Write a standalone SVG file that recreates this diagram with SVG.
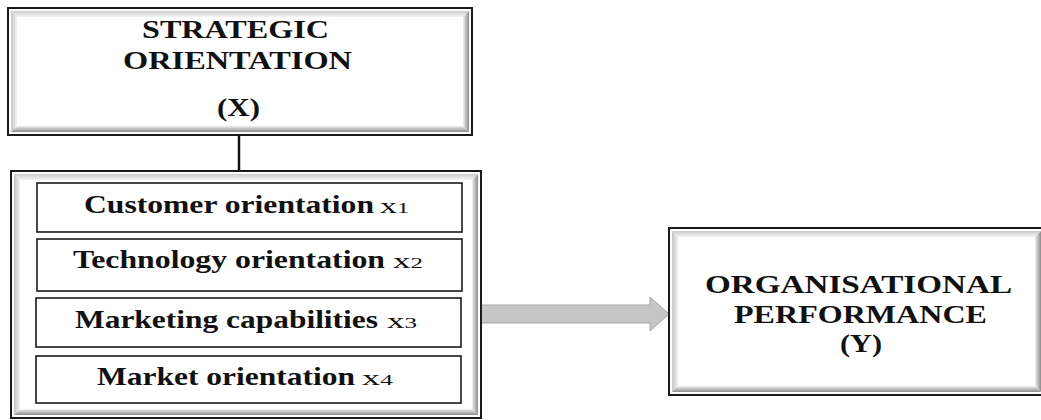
<svg xmlns="http://www.w3.org/2000/svg" width="1041" height="420" viewBox="0 0 1041 420">
  <defs>
    <linearGradient id="gL" x1="0" y1="0" x2="1" y2="0">
      <stop offset="0" stop-color="#c4c4c4"/>
      <stop offset="1" stop-color="#f2f2f2"/>
    </linearGradient>
    <linearGradient id="gT" x1="0" y1="0" x2="0" y2="1">
      <stop offset="0" stop-color="#cccccc"/>
      <stop offset="1" stop-color="#f4f4f4"/>
    </linearGradient>
    <linearGradient id="gR" x1="0" y1="0" x2="1" y2="0">
      <stop offset="0" stop-color="#f0f0f0"/>
      <stop offset="1" stop-color="#8c8c8c"/>
    </linearGradient>
    <linearGradient id="gB" x1="0" y1="0" x2="0" y2="1">
      <stop offset="0" stop-color="#f0f0f0"/>
      <stop offset="1" stop-color="#8c8c8c"/>
    </linearGradient>
    <style>
      .outer { fill: #ffffff; stroke: #1a1a1a; stroke-width: 2; }
      .sub { fill: #ffffff; stroke: #1a1a1a; stroke-width: 1.6; }
      .bl { fill: url(#gL); }
      .bt { fill: url(#gT); }
      .br { fill: url(#gR); }
      .bb { fill: url(#gB); }
      text { font-family: 'Liberation Serif', 'DejaVu Serif', serif; }
      .t { font-weight: bold; fill: #111111; }
      .v { font-weight: normal; fill: #111111; font-size: 21px; }
      .d { font-size: 15px; }
      .conn { stroke: #111111; stroke-width: 2.5; fill: none; }
      .arrow { fill: #c6c6c6; stroke: #a4a4a4; stroke-width: 1; }
    </style>
  </defs>

  <g id="node-strategic-orientation">
    <rect class="outer" x="8" y="8" width="464" height="127"/>
    <polygon class="bl" points="11,11 17,17 17,126 11,132"/>
    <polygon class="bt" points="11,11 469,11 463,17 17,17"/>
    <polygon class="br" points="463,17 469,11 469,132 463,126"/>
    <polygon class="bb" points="17,126 463,126 469,132 11,132"/>
    <text class="t" x="142" y="38" font-size="25" textLength="187" lengthAdjust="spacingAndGlyphs">STRATEGIC</text>
    <text class="t" x="123" y="69" font-size="25" textLength="229" lengthAdjust="spacingAndGlyphs">ORIENTATION</text>
    <text class="t" x="217" y="116" font-size="25" textLength="43" lengthAdjust="spacingAndGlyphs">(X)</text>
  </g>

  <g id="connectors">
    <line class="conn" x1="239" y1="135" x2="239" y2="171"/>
    <polygon class="arrow" points="481,305 650,305 650,297 669,314 650,331 650,323 481,323"/>
  </g>

  <g id="node-dimensions">
    <rect class="outer" x="11" y="171" width="470" height="247"/>
    <polygon class="bl" points="14,174 20,180 20,409 14,415"/>
    <polygon class="bt" points="14,174 478,174 472,180 20,180"/>
    <polygon class="br" points="472,180 478,174 478,415 472,409"/>
    <polygon class="bb" points="20,409 472,409 478,415 14,415"/>

    <g id="node-customer-orientation">
      <rect class="sub" x="37" y="183" width="425" height="49"/>
      <text class="t" x="84" y="213" font-size="26" textLength="290" lengthAdjust="spacingAndGlyphs">Customer orientation</text>
      <text class="v" x="380" y="213" textLength="29" lengthAdjust="spacingAndGlyphs">x<tspan class="d">1</tspan></text>
    </g>
    <g id="node-technology-orientation">
      <rect class="sub" x="37" y="239" width="425" height="52"/>
      <text class="t" x="73" y="268" font-size="26" textLength="312" lengthAdjust="spacingAndGlyphs">Technology orientation</text>
      <text class="v" x="393" y="268" textLength="30" lengthAdjust="spacingAndGlyphs">x<tspan class="d">2</tspan></text>
    </g>
    <g id="node-marketing-capabilities">
      <rect class="sub" x="36" y="298" width="425" height="49"/>
      <text class="t" x="75" y="328" font-size="26" textLength="303" lengthAdjust="spacingAndGlyphs">Marketing capabilities</text>
      <text class="v" x="387" y="328" textLength="30" lengthAdjust="spacingAndGlyphs">x<tspan class="d">3</tspan></text>
    </g>
    <g id="node-market-orientation">
      <rect class="sub" x="36" y="356" width="425" height="47"/>
      <text class="t" x="97" y="385" font-size="26" textLength="258" lengthAdjust="spacingAndGlyphs">Market orientation</text>
      <text class="v" x="362" y="385" textLength="31" lengthAdjust="spacingAndGlyphs">x<tspan class="d">4</tspan></text>
    </g>
  </g>

  <g id="node-organisational-performance">
    <rect class="outer" x="669" y="228" width="375" height="167"/>
    <polygon class="bl" points="672,231 678,237 678,386 672,392"/>
    <polygon class="bt" points="672,231 1041,231 1035,237 678,237"/>
    <polygon class="br" points="1035,237 1041,231 1041,392 1035,386"/>
    <polygon class="bb" points="678,386 1035,386 1041,392 672,392"/>
    <text class="t" x="705" y="293" font-size="26" textLength="307" lengthAdjust="spacingAndGlyphs">ORGANISATIONAL</text>
    <text class="t" x="734" y="323" font-size="26" textLength="253" lengthAdjust="spacingAndGlyphs">PERFORMANCE</text>
    <text class="t" x="840" y="352" font-size="26" textLength="42" lengthAdjust="spacingAndGlyphs">(Y)</text>
  </g>
</svg>
